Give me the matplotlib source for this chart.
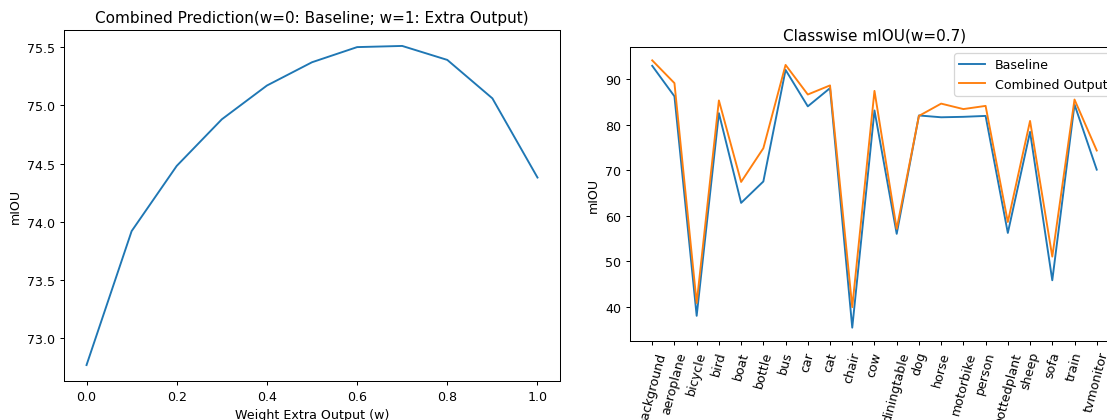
import numpy as np
import matplotlib
matplotlib.use("Agg")
import matplotlib.pyplot as plt

# weight sweep
weights = [0.0, 0.1, 0.2, 0.3, 0.4, 0.5, 0.6, 0.7, 0.8, 0.9, 1.0]
miou_combined = [72.77, 73.92, 74.48, 74.88, 75.17, 75.37, 75.50, 75.51, 75.39, 75.06, 74.38]

# classwise at w=0.7
classes = ['background', 'aeroplane', 'bicycle', 'bird', 'boat', 'bottle', 'bus', 'car',
           'cat', 'chair', 'cow', 'diningtable', 'dog', 'horse', 'motorbike', 'person',
           'pottedplant', 'sheep', 'sofa', 'train', 'tvmonitor']
baseline = [92.9, 86.2, 38.0, 82.5, 62.8, 67.5, 92.0, 84.0, 88.0, 35.4, 83.1,
            56.0, 82.0, 81.6, 81.7, 81.9, 56.2, 78.4, 45.8, 84.4, 70.1]
combined = [94.1, 89.1, 40.8, 85.3, 67.4, 74.8, 93.1, 86.6, 88.6, 39.9, 87.4,
            57.1, 81.9, 84.6, 83.4, 84.1, 58.6, 80.8, 51.0, 85.5, 74.3]

# the reference looks like a default-style figure shrunk to ~91%
dpi = 91.3
fig = plt.figure(figsize=(1107 / dpi, 421 / dpi), dpi=dpi)

ax1 = fig.add_axes([0.0578, 0.0926, 0.4481, 0.8338])
ax1.plot(weights, miou_combined)
ax1.set_title("Combined Prediction(w=0: Baseline; w=1: Extra Output)")
ax1.set_xlabel("Weight Extra Output (w)")
ax1.set_ylabel("mIOU")
ax1.set_yticks([73.0, 73.5, 74.0, 74.5, 75.0, 75.5])

ax2 = fig.add_axes([0.5691, 0.1876, 0.4417, 0.6984])
x = np.arange(len(classes))
ax2.plot(x, baseline, label="Baseline")
ax2.plot(x, combined, label="Combined Output")
ax2.set_xticks(x)
ax2.set_xticklabels(classes, rotation=75)
ax2.set_title("Classwise mIOU(w=0.7)")
ax2.set_ylabel("mIOU")
ax2.legend(loc="upper right")

fig.savefig("out.png", dpi=dpi)
